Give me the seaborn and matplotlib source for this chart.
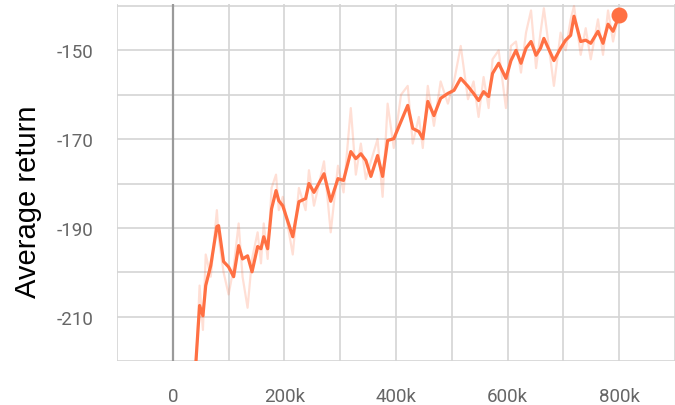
import matplotlib
matplotlib.use("Agg")
import matplotlib.pyplot as plt
import seaborn as sns
import pandas as pd
from matplotlib.ticker import FixedLocator, FixedFormatter

# ---- data ----
steps_k = [41, 48, 54, 59, 68, 79, 82, 91, 100, 109,
           118, 125, 134, 142, 152, 158, 163, 170, 177, 185,
           190, 197, 215, 226, 238, 244, 253, 271, 283, 296,
           306, 319, 328, 337, 346, 355, 367, 376, 385, 396,
           409, 421, 430, 441, 448, 457, 468, 480, 493, 504,
           516, 529, 539, 548, 557, 566, 573, 584, 597, 606,
           615, 624, 633, 642, 651, 659, 665, 683, 695, 704,
           713, 719, 731, 740, 749, 762, 771, 780, 789, 800]

smoothed = [-221, -207.5, -209.8, -203, -198.5, -189.7, -189.5, -197.6, -198.8, -201,
            -194, -197, -196.3, -199.9, -194.2, -194.7, -192, -194.7, -185.7, -181.6,
            -183.9, -185, -192, -184.1, -183.4, -180, -182, -177.8, -184, -178.9,
            -179.3, -172.8, -174.4, -173.3, -174.8, -178.4, -173.7, -178.4, -170.3, -169.9,
            -166, -162.4, -167.6, -168.3, -169.9, -161.5, -164.7, -160.8, -159.7, -159,
            -156.3, -158.1, -159.7, -161.3, -159.3, -160.4, -155.2, -152.9, -156.3, -152.3,
            -150, -152.9, -149.5, -148, -151.1, -149.5, -147.3, -152.3, -149.5, -147.7,
            -146.6, -142.3, -148, -147.7, -148.4, -145.7, -148.4, -144.1, -145.7, -142.1]

raw = [-223, -203, -213, -196, -201, -186, -192, -200, -205, -199,
       -189, -201, -208, -197, -191, -198, -189, -197, -181, -178,
       -186, -183, -196, -181, -186, -177, -185, -175, -191, -176,
       -182, -163, -178, -171, -179, -175, -170, -183, -162, -172,
       -160, -158, -171, -165, -172, -158, -167, -157, -162, -157,
       -149, -161, -157, -165, -156, -163, -152, -150, -163, -149,
       -148, -155, -146, -141, -154, -146, -140.5, -158, -146, -150,
       -143, -140, -151, -145, -152, -143, -151, -141, -148, -141]

x_ticks = [-100000, 0, 100000, 200000, 300000, 400000, 500000, 600000, 700000, 800000, 900000]
x_labels = ["", "0", "", "200k", "", "400k", "", "600k", "", "800k", ""]
y_ticks = [-220, -210, -200, -190, -180, -170, -160, -150, -140]
y_labels = ["", "-210", "", "-190", "", "-170", "", "-150", ""]

df = pd.DataFrame({"step": [s * 1000 for s in steps_k], "smoothed": smoothed, "raw": raw})

sns.set_style("white")
color = "#FF7043"
grid_c = "#d4d4d4"

fig = plt.figure(figsize=(6.75, 4.06), dpi=100)
ax = fig.add_axes([117 / 675, 44 / 406, 558 / 675, (362 - 4.8) / 406])

sns.lineplot(data=df, x="step", y="raw", ax=ax, color=color, alpha=0.22, linewidth=1.6)
sns.lineplot(data=df, x="step", y="smoothed", ax=ax, color=color, linewidth=2.3)
ax.scatter([df["step"].iloc[-1]], [df["smoothed"].iloc[-1]], s=110, color=color, zorder=5,
           clip_on=False)

ax.set_xlim(-100000, 900000)
ax.set_ylim(-220, -139.5)

ax.xaxis.set_major_locator(FixedLocator(x_ticks))
ax.xaxis.set_major_formatter(FixedFormatter(x_labels))
ax.yaxis.set_major_locator(FixedLocator(y_ticks))
ax.yaxis.set_major_formatter(FixedFormatter(y_labels))

ax.grid(True, color=grid_c, linewidth=1.2)
ax.set_axisbelow(True)
ax.axvline(0, color="#9a9a9a", linewidth=1.6, zorder=1)
for s in ax.spines.values():
    s.set_visible(False)

ax.tick_params(axis="both", which="major", length=8, width=1.2, color=grid_c,
               labelcolor="#666666", labelsize=13.5)
ax.tick_params(axis="y", pad=9)
ax.tick_params(axis="x", pad=11)
for lab in ax.get_xticklabels() + ax.get_yticklabels():
    lab.set_fontfamily("Roboto")

ax.set_xlabel("")
ax.set_ylabel("")
fig.text(28 / 675, 1 - 202 / 406, "Average return", rotation=90, ha="center", va="center",
         fontsize=21, family="Liberation Sans", color="black")

fig.savefig("out.png", dpi=100)
